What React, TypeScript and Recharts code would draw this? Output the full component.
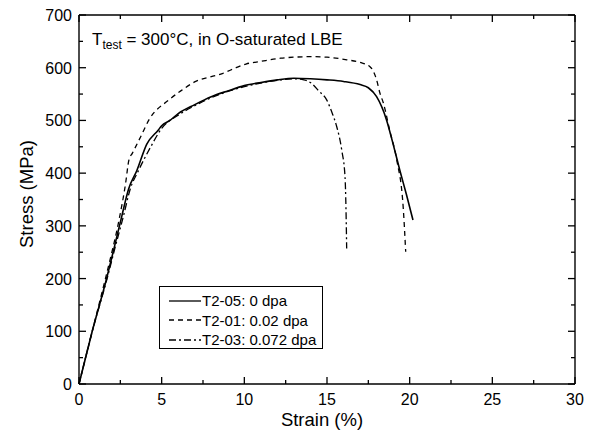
import React from 'react';
import { LineChart, Line, XAxis, YAxis, Legend, ReferenceLine } from 'recharts';

// strain (%) / stress (MPa)
const t205Strain = [0, 0.8, 1.67, 2.1, 2.6, 3.0, 3.5, 4.1, 4.8, 5.0, 5.5, 6.0, 7.0, 8.0, 9.0, 10.0, 11.0, 12.0, 13.0, 14.0, 15.0, 16.0, 17.0, 17.5, 18.0, 18.6, 19.0, 19.4, 19.8, 20.2];
const t205Stress = [0, 100, 200, 255, 320, 370, 405, 455, 482, 490, 500, 513, 530, 545, 556, 566, 572, 577, 580, 579, 577, 574, 568, 562, 545, 501, 455, 406, 360, 311];

const t201Strain = [0, 0.8, 1.6, 1.92, 2.42, 2.82, 3.02, 3.23, 3.73, 4.23, 5.44, 6.2, 7.06, 8.0, 8.67, 9.5, 10.1, 11.0, 12.2, 13.0, 14.0, 15.0, 16.2, 17.0, 17.6, 18.0, 18.2, 18.41, 18.8, 19.22, 19.62, 19.76];
const t201Stress = [0, 100, 200, 241, 311, 381, 425, 438, 469, 501, 539, 557, 574, 583, 589, 600, 607, 612, 618, 620, 621, 620, 615, 610, 602, 577, 552, 533, 480, 425, 330, 251];

const t203Strain = [0, 0.8, 1.7, 2.15, 2.7, 3.1, 3.6, 4.34, 5.0, 6.0, 7.0, 8.0, 9.0, 10.0, 11.0, 12.0, 13.0, 13.6, 14.08, 14.5, 14.98, 15.3, 15.59, 15.89, 16.09, 16.15, 16.19];
const t203Stress = [0, 100, 200, 255, 320, 370, 405, 450, 485, 510, 528, 543, 555, 564, 571, 576, 579, 577, 570, 556, 539, 515, 488, 444, 393, 330, 257];

const xMajor = [0, 5, 10, 15, 20, 25, 30];
const xMinor = [2.5, 7.5, 12.5, 17.5, 22.5, 27.5];
const yMajor = [0, 100, 200, 300, 400, 500, 600, 700];
const yMinor = [50, 150, 250, 350, 450, 550, 650];

const series = [
  { name: 'T2-05: 0 dpa', strain: t205Strain, stress: t205Stress, dash: undefined, width: 1.6 },
  { name: 'T2-01: 0.02 dpa', strain: t201Strain, stress: t201Stress, dash: '5 4', width: 1.3 },
  { name: 'T2-03: 0.072 dpa', strain: t203Strain, stress: t203Stress, dash: '7 3 2 3', width: 1.3 },
];

const FONT = '"Liberation Sans", Arial, sans-serif';
const X_MAX = 30;
const Y_MAX = 700;
const PLOT_W = 496;
const PLOT_H = 369;
// inward tick lengths, px converted to data units
const xLen = (px: number) => (px * X_MAX) / PLOT_W;
const yLen = (px: number) => (px * Y_MAX) / PLOT_H;

const BottomLabel = ({ x, y, payload }: any) => (
  <text x={x} y={y + 21} textAnchor="middle" fontSize={16} fill="#000" fontFamily={FONT}>
    {payload.value}
  </text>
);

const LeftLabel = ({ x, y, payload }: any) => (
  <text x={x - 7} y={y + 6} textAnchor="end" fontSize={16} fill="#000" fontFamily={FONT}>
    {payload.value}
  </text>
);

const LegendBox = () => (
  <div
    style={{
      border: '1px solid #000',
      background: '#fff',
      width: 164,
      height: 63,
      boxSizing: 'border-box',
      paddingTop: 4,
      fontFamily: FONT,
      fontSize: 15,
      color: '#000',
    }}
  >
    {series.map((s) => (
      <div key={s.name} style={{ display: 'flex', alignItems: 'center', height: 19.5 }}>
        <svg width={42} height={10} style={{ marginLeft: 9 }}>
          <line x1={0} y1={5} x2={32} y2={5} stroke="#000" strokeWidth={1.3} strokeDasharray={s.dash} />
        </svg>
        <span style={{ marginLeft: -9 }}>{s.name}</span>
      </div>
    ))}
  </div>
);

const tickSegs = () => {
  const segs: any[] = [];
  const add = (v: number, len: number, key: string) => {
    segs.push([[{ x: v, y: 0 }, { x: v, y: yLen(len) }], key + 'b']);
    segs.push([[{ x: v, y: Y_MAX }, { x: v, y: Y_MAX - yLen(len) }], key + 't']);
  };
  xMajor.forEach((v) => add(v, 7, 'xM' + v));
  xMinor.forEach((v) => add(v, 4, 'xm' + v));
  const addY = (v: number, len: number, key: string) => {
    segs.push([[{ x: 0, y: v }, { x: xLen(len), y: v }], key + 'l']);
    segs.push([[{ x: X_MAX, y: v }, { x: X_MAX - xLen(len), y: v }], key + 'r']);
  };
  yMajor.forEach((v) => addY(v, 7, 'yM' + v));
  yMinor.forEach((v) => addY(v, 4, 'ym' + v));
  return segs;
};

export default function App() {
  return (
    <div style={{ position: 'absolute', left: 0, top: 0, width: 594, height: 436, background: '#fff', fontFamily: FONT }}>
      <LineChart width={594} height={436} margin={{ top: 14, right: 18, bottom: 51, left: 78 }}>
        <XAxis xAxisId={0} dataKey="x" type="number" domain={[0, X_MAX]} ticks={xMajor} interval={0}
          height={1} tickSize={0} tickMargin={0} tickLine={false} axisLine={{ stroke: '#000', strokeWidth: 1.4 }}
          tick={(p: any) => <BottomLabel {...p} />} />
        <XAxis xAxisId="top" orientation="top" dataKey="x" type="number" domain={[0, X_MAX]} ticks={xMajor}
          height={1} tickSize={0} tickLine={false} axisLine={{ stroke: '#000', strokeWidth: 1.4 }} tick={false} />
        <YAxis yAxisId={0} type="number" domain={[0, Y_MAX]} ticks={yMajor} interval={0}
          width={1} tickSize={0} tickMargin={0} tickLine={false} axisLine={{ stroke: '#000', strokeWidth: 1.4 }}
          tick={(p: any) => <LeftLabel {...p} />} />
        <YAxis yAxisId="right" orientation="right" type="number" domain={[0, Y_MAX]} ticks={yMajor}
          width={1} tickSize={0} tickLine={false} axisLine={{ stroke: '#000', strokeWidth: 1.4 }} tick={false} />
        {tickSegs().map(([seg, key]) => (
          <ReferenceLine key={key} segment={seg} stroke="#000" strokeWidth={1.3} ifOverflow="visible" />
        ))}
        {series.map((s) => (
          <Line
            key={s.name}
            name={s.name}
            data={s.strain.map((x, i) => ({ x, y: s.stress[i] }))}
            dataKey="y"
            type="monotone"
            stroke="#000"
            strokeWidth={s.width}
            strokeDasharray={s.dash}
            dot={false}
            isAnimationActive={false}
          />
        ))}
        <Legend
          layout="horizontal"
          verticalAlign="middle"
          align="center"
          content={() => <LegendBox />}
          wrapperStyle={{ left: 159, top: 286, width: 164, height: 63 }}
        />
      </LineChart>
      <svg
        width={594}
        height={436}
        style={{ position: 'absolute', left: 0, top: 0, pointerEvents: 'none' }}
        fontFamily={FONT}
      >
        <text x={92} y={45} fontSize={17} fill="#000">
          T<tspan fontSize={12} dy={4}>test</tspan>
          <tspan dy={-4}> = 300°C, in O-saturated LBE</tspan>
        </text>
        <text x={322} y={426} textAnchor="middle" fontSize={18.5} fill="#000">
          Strain (%)
        </text>
        <text
          x={33}
          y={194}
          textAnchor="middle"
          fontSize={18.5}
          fill="#000"
          transform="rotate(-90 33 194)"
        >
          Stress (MPa)
        </text>
      </svg>
    </div>
  );
}
